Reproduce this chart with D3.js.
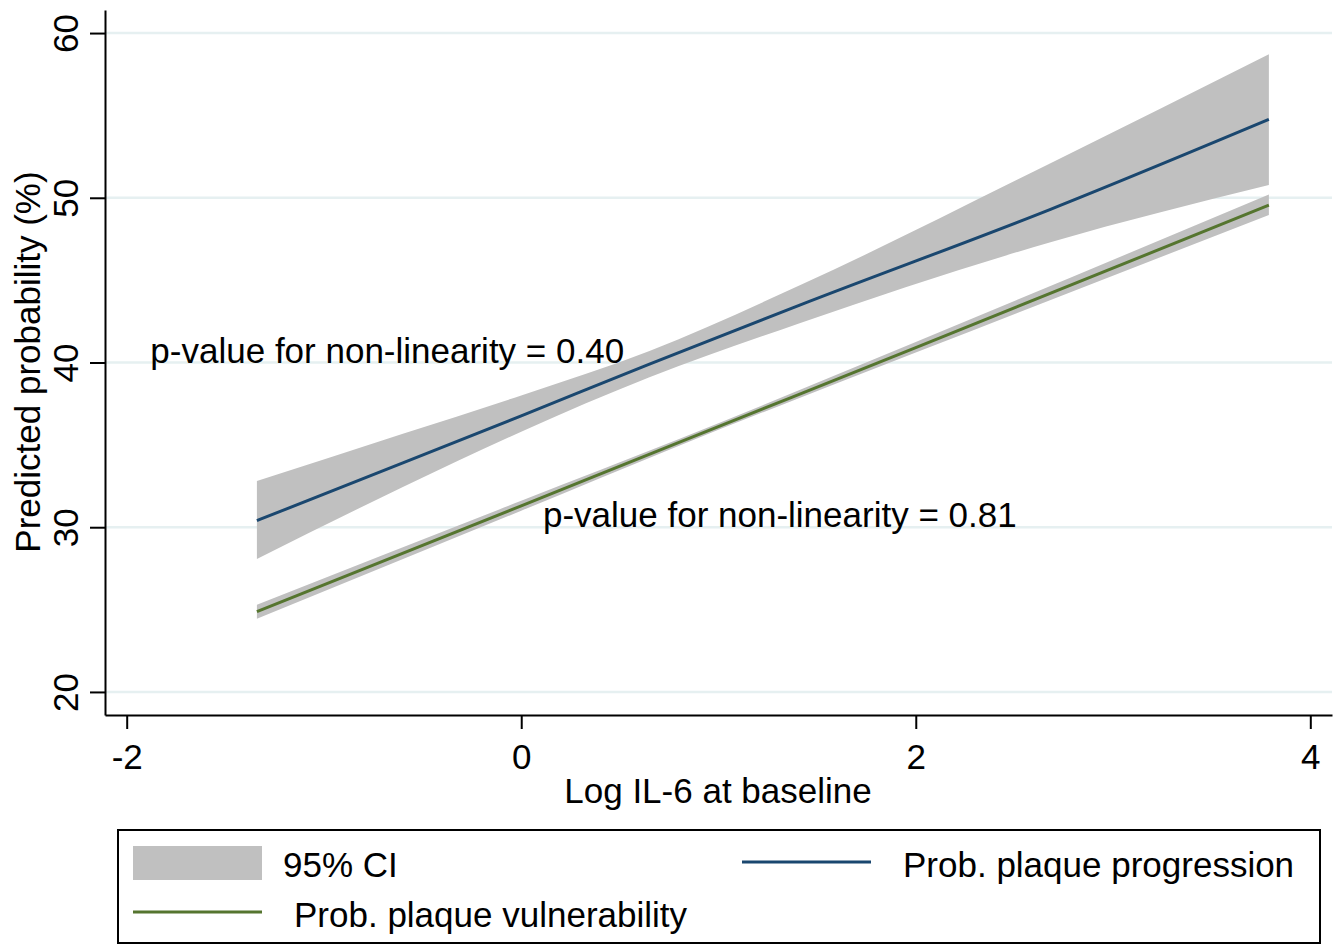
<!DOCTYPE html>
<html lang="en">
<head>
  <meta charset="utf-8">
  <title>Predicted probability by log IL-6</title>
  <script src="https://cdn.jsdelivr.net/npm/d3@7"></script>
  <style>
    body { margin: 0; background: #fff; }
    svg { display: block; font-family: "Liberation Sans", Arial, Helvetica, sans-serif; }
  </style>
</head>
<body>
<script>
  // Log IL-6 values where the curves were read
  const progX  = [-1.34, -0.6, 0, 0.65, 1.415, 2.683, 3.79];
  const progY  = [30.4, 33.9, 36.76, 39.9, 43.5, 49.3, 54.76];
  const progLo = [28.07, 32.44, 35.8, 39.1, 42.4, 47.3, 50.77];
  const progHi = [32.8, 35.67, 38.0, 40.7, 44.7, 52.1, 58.72];

  const vulnX  = [-1.34, 0, 0.8, 2.0, 3.79];
  const vulnY  = [24.87, 31.3, 35.15, 40.9, 49.55];
  const vulnLo = [24.45, 31.0, 34.95, 40.6, 48.95];
  const vulnHi = [25.3, 31.6, 35.35, 41.25, 50.2];

  const xTicks = [-2, 0, 2, 4];
  const yTicks = [20, 30, 40, 50, 60];

  const notes = [
    { x: -1.88, y: 40, text: "p-value for non-linearity = 0.40" },
    { x: 0.11, y: 30, text: "p-value for non-linearity = 0.81" }
  ];

  const w = 1342, h = 944;
  const fs = 35;
  const grey = "#c0c0c0", blue = "#1a476f", green = "#55752f";

  const svg = d3.select("body").append("svg")
    .attr("width", w)
    .attr("height", h);

  const x = d3.scaleLinear().domain([-2.11, 4.11]).range([105, 1332]);
  const y = d3.scaleLinear().domain([18.6, 61.4]).range([715, 10]);

  // gridlines
  svg.selectAll("line.grid")
    .data(yTicks)
    .enter()
    .append("line")
    .attr("class", "grid")
    .attr("x1", 106).attr("x2", 1332)
    .attr("y1", d => y(d)).attr("y2", d => y(d))
    .attr("stroke", "#e6f0f1")
    .attr("stroke-width", 2.5);

  const prog = progX.map((d, i) => ({ x: d, y: progY[i], lo: progLo[i], hi: progHi[i] }));
  const vuln = vulnX.map((d, i) => ({ x: d, y: vulnY[i], lo: vulnLo[i], hi: vulnHi[i] }));

  const band = d3.area()
    .x(d => x(d.x))
    .y0(d => y(d.lo))
    .y1(d => y(d.hi))
    .curve(d3.curveMonotoneX);

  const line = d3.line()
    .x(d => x(d.x))
    .y(d => y(d.y))
    .curve(d3.curveMonotoneX);

  svg.append("path").datum(prog).attr("d", band).attr("fill", grey);
  svg.append("path").datum(vuln).attr("d", band).attr("fill", grey);

  svg.append("path").datum(prog).attr("d", line)
    .attr("fill", "none").attr("stroke", blue).attr("stroke-width", 3);
  svg.append("path").datum(vuln).attr("d", line)
    .attr("fill", "none").attr("stroke", green).attr("stroke-width", 3);

  // axes
  const xAxis = svg.append("g")
    .attr("transform", "translate(0,715)")
    .call(d3.axisBottom(x).tickValues(xTicks).tickSize(14).tickSizeOuter(0).tickPadding(15)
      .tickFormat(d => String(d)));

  const yAxis = svg.append("g")
    .attr("transform", "translate(105,0)")
    .call(d3.axisLeft(y).tickValues(yTicks).tickSize(15).tickSizeOuter(0));

  yAxis.selectAll("text")
    .attr("x", null)
    .attr("dy", null)
    .attr("text-anchor", "middle")
    .attr("transform", "translate(-27,0) rotate(-90)");

  [xAxis, yAxis].forEach(g => {
    g.select(".domain").attr("stroke", "#000").attr("stroke-width", 2);
    g.selectAll(".tick line").attr("stroke", "#000").attr("stroke-width", 2);
    g.selectAll("text").attr("font-size", fs).attr("fill", "#000")
      .attr("font-family", "Liberation Sans, Arial, sans-serif");
  });
  xAxis.selectAll("text").attr("dy", "0.71em");

  // axis titles
  svg.append("text")
    .attr("x", 718).attr("y", 803)
    .attr("text-anchor", "middle")
    .attr("font-size", fs)
    .text("Log IL-6 at baseline");

  svg.append("text")
    .attr("transform", "translate(40,362) rotate(-90)")
    .attr("text-anchor", "middle")
    .attr("font-size", fs)
    .text("Predicted probability (%)");

  // annotations
  svg.selectAll("text.note")
    .data(notes)
    .enter()
    .append("text")
    .attr("class", "note")
    .attr("x", d => x(d.x))
    .attr("y", d => y(d.y))
    .attr("font-size", fs)
    .text(d => d.text);

  // legend
  const lg = svg.append("g");
  lg.append("rect")
    .attr("x", 118).attr("y", 830).attr("width", 1202).attr("height", 113)
    .attr("fill", "#fff").attr("stroke", "#000").attr("stroke-width", 2);
  lg.append("rect")
    .attr("x", 133).attr("y", 846).attr("width", 129).attr("height", 34)
    .attr("fill", grey);
  lg.append("text").attr("x", 283).attr("y", 877).attr("font-size", fs).text("95% CI");
  lg.append("line")
    .attr("x1", 742).attr("x2", 871).attr("y1", 862).attr("y2", 862)
    .attr("stroke", blue).attr("stroke-width", 3);
  lg.append("text").attr("x", 903).attr("y", 877).attr("font-size", fs).text("Prob. plaque progression");
  lg.append("line")
    .attr("x1", 133).attr("x2", 262).attr("y1", 912).attr("y2", 912)
    .attr("stroke", green).attr("stroke-width", 3);
  lg.append("text").attr("x", 294).attr("y", 927).attr("font-size", fs).text("Prob. plaque vulnerability");
</script>
</body>
</html>
